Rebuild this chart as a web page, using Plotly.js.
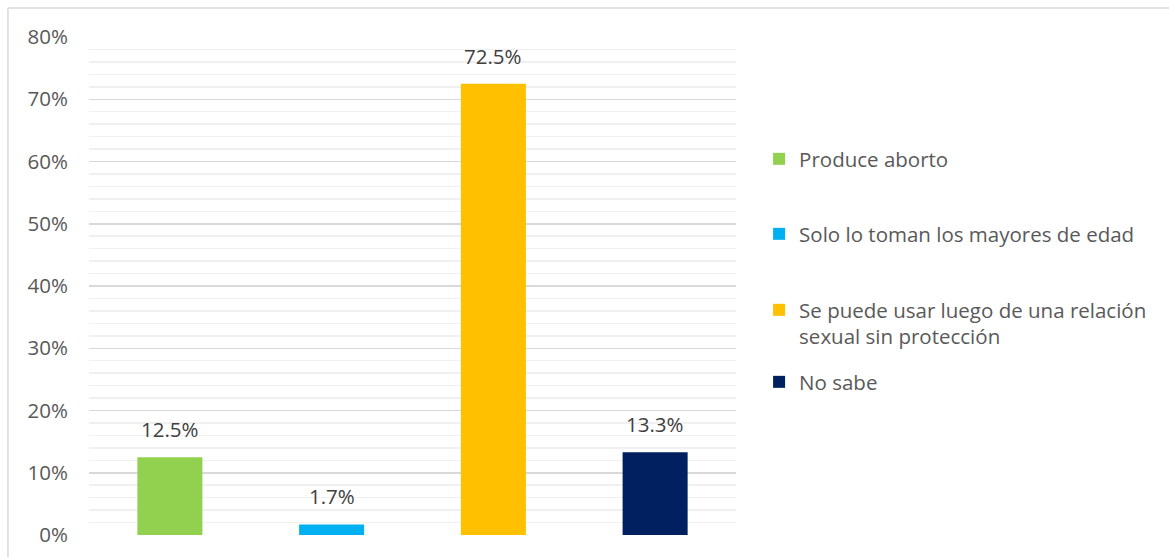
<!DOCTYPE html>
<html>
<head>
<meta charset="utf-8">
<script src="https://cdn.plot.ly/plotly-3.0.1.min.js"></script>
<style>
  html, body { margin: 0; padding: 0; background: #ffffff; }
  #chart { width: 1169px; height: 557px; }
</style>
</head>
<body>
<div id="chart"></div>
<script>
const categories = [
  "Produce aborto",
  "Solo lo toman los mayores de edad",
  "Se puede usar luego de una relación<br>sexual sin protección",
  "No sabe"
];
const values = [12.5, 1.7, 72.5, 13.3];
const labels = ["12.5%", "1.7%", "72.5%", "13.3%"];
const colors = ["#92D050", "#00B0F0", "#FFC000", "#002060"];
const legendNames = ["legend", "legend2", "legend3", "legend4"];
const tickVals = [0, 10, 20, 30, 40, 50, 60, 70, 80];
const tickText = ["0%", "10%", "20%", "30%", "40%", "50%", "60%", "70%", "80%"];

const font = "'Open Sans', 'Noto Sans', sans-serif";

const traces = categories.map((c, i) => ({
  type: "bar",
  x: [c],
  y: [values[i]],
  name: c,
  legend: legendNames[i],
  marker: { color: colors[i], line: { width: 0 } },
  hoverinfo: "skip"
}));

const annotations = categories.map((c, i) => ({
  x: c,
  y: values[i],
  xref: "x",
  yref: "y",
  text: labels[i],
  showarrow: false,
  yanchor: "bottom",
  yshift: 12,
  font: { family: font, size: 20.5, color: "#404040" }
}));

const legendBase = {
  xanchor: "left",
  x: 1.0357,
  bgcolor: "rgba(0,0,0,0)",
  borderwidth: 0,
  font: { family: font, size: 20.5, color: "#595959" }
};

const layout = {
  width: 1169,
  height: 557,
  margin: { l: 89, r: 433, t: 37, b: 22, pad: 0 },
  paper_bgcolor: "#ffffff",
  plot_bgcolor: "#ffffff",
  barmode: "overlay",
  bargap: 0.598,
  showlegend: true,
  xaxis: {
    type: "category",
    categoryarray: categories,
    showticklabels: false,
    showgrid: false,
    zeroline: false,
    showline: false,
    ticks: ""
  },
  yaxis: {
    range: [0, 80],
    tickmode: "array",
    tickvals: tickVals,
    ticktext: tickText,
    showgrid: true,
    gridcolor: "#d9d9d9",
    gridwidth: 1.5,
    zeroline: false,
    showline: false,
    ticks: "",
    ticklabelstandoff: 20,
    tickfont: { family: font, size: 20.5, color: "#595959" },
    minor: { dtick: 2, showgrid: true, gridcolor: "#f0f0f0", gridwidth: 1.5 }
  },
  legend: Object.assign({}, legendBase, { y: 0.755, yanchor: "middle" }),
  legend2: Object.assign({}, legendBase, { y: 0.6044, yanchor: "middle" }),
  legend3: Object.assign({}, legendBase, { y: 0.4247, yanchor: "middle", valign: "top" }),
  legend4: Object.assign({}, legendBase, { y: 0.3072, yanchor: "middle" }),
  annotations: annotations,
  shapes: [
    { type: "line", xref: "paper", yref: "paper", x0: -0.1252, x1: 1.8, y0: 1.0582, y1: 1.0582,
      line: { color: "#d9d9d9", width: 1.5 } },
    { type: "line", xref: "paper", yref: "paper", x0: -0.1252, x1: -0.1252, y0: 1.0582, y1: -0.2,
      line: { color: "#d9d9d9", width: 1.5 } }
  ]
};

Plotly.newPlot("chart", traces, layout, { displayModeBar: false, staticPlot: true });
</script>
</body>
</html>
